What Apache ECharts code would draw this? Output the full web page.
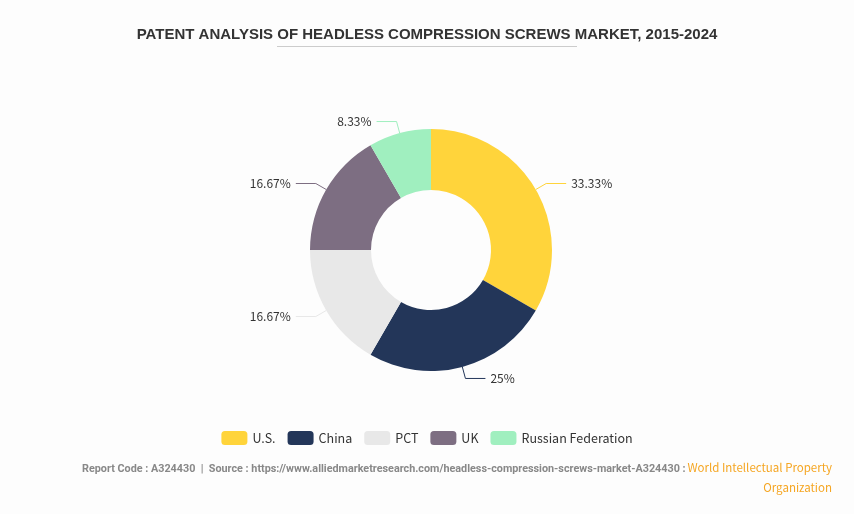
<!DOCTYPE html>
<html><head><meta charset="utf-8">
<script src="https://cdn.jsdelivr.net/npm/echarts@6/dist/echarts.min.js"></script>
<style>html,body{margin:0;padding:0;background:#fdfdfd}#c{width:854px;height:514px}</style>
</head><body><div id="c"></div>
<script>
const categories = ["U.S.", "China", "PCT", "UK", "Russian Federation"];
const values = [4, 3, 2, 2, 1];
const colors = ["#ffd43b", "#233659", "#e8e8e8", "#7d6e82", "#a0efbf"];
const chart = echarts.init(document.getElementById('c'));
chart.setOption({
  backgroundColor: '#fdfdfd',
  color: colors,
  title: {
    text: 'PATENT ANALYSIS OF HEADLESS COMPRESSION SCREWS MARKET, 2015-2024',
    left: 'center', top: 22,
    textStyle: {fontFamily: 'Liberation Sans, Arial', fontSize: 15, fontWeight: 'bold', color: '#333'}
  },
  legend: {
    bottom: 64, itemWidth: 26, itemHeight: 14, itemGap: 12,
    icon: 'roundRect',
    textStyle: {fontFamily: 'Noto Sans CJK SC', fontSize: 12.5, color: '#333'},
    data: categories
  },
  graphic: [
    {type: 'line', shape: {x1: 277, y1: 46.5, x2: 577, y2: 46.5}, style: {stroke: '#ccc', lineWidth: 1}},
    {type: 'text', left: 82, top: 464, style: {text: 'Report Code : A324430  |  Source : https://www.alliedmarketresearch.com/headless-compression-screws-market-A324430 :', font: 'bold 10.8px Roboto, Arial', fill: '#888'}},
    {type: 'text', right: 22, top: 462, style: {text: 'World Intellectual Property', font: '11.5px "Noto Sans CJK SC"', fill: '#f5a623', align: 'right'}},
    {type: 'text', right: 22, top: 482, style: {text: 'Organization', font: '11.5px "Noto Sans CJK SC"', fill: '#f5a623', align: 'right'}}
  ],
  series: [{
    type: 'pie',
    center: [431, 250],
    radius: [60, 121],
    startAngle: 90,
    data: categories.map((n, i) => ({name: n, value: values[i]})),
    label: {
      formatter: p => (Math.round(p.percent * 100) / 100) + '%',
      fontFamily: 'Noto Sans CJK SC', fontSize: 12, color: '#333'
    },
    percentPrecision: 2,
    labelLine: {length: 12, length2: 20, lineStyle: {width: 1}}
  }]
});
</script></body></html>
